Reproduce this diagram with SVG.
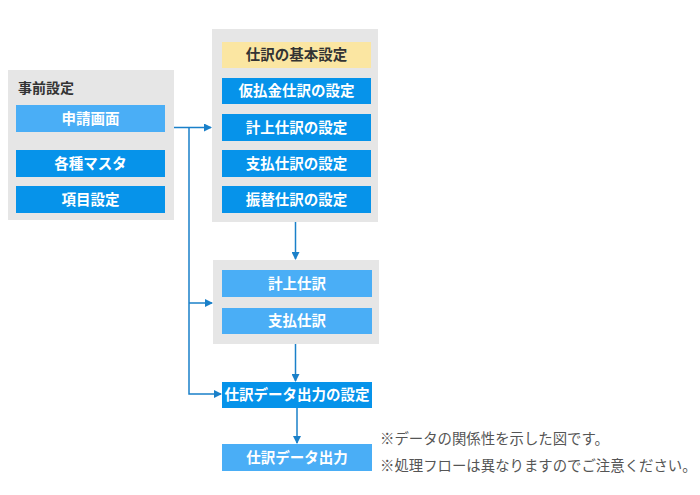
<svg xmlns="http://www.w3.org/2000/svg" width="700" height="495" viewBox="0 0 700 495">
<style>
.grp{fill:#e6e6e6}
.dk{fill:#0693ea}
.lt{fill:#4aaef6}
.yl{fill:#fbe6a2}
.bt{font-family:"Noto Sans CJK JP","Noto Sans",sans-serif;font-size:14.5px;font-weight:bold;fill:#fff;text-anchor:middle}
.ht{font-family:"Noto Sans CJK JP","Noto Sans",sans-serif;font-size:14px;font-weight:bold;fill:#333}
.nt{font-family:"Noto Sans CJK JP","Noto Sans",sans-serif;font-size:14.4px;fill:#555}
.ln{stroke:#1a80c9;stroke-width:1.5;fill:none}
</style>
<defs>
<marker id="ah" markerWidth="8" markerHeight="8" refX="7" refY="4" orient="auto" markerUnits="userSpaceOnUse">
<path d="M0,0 L8,4 L0,8 Z" fill="#1a80c9"/>
</marker>
</defs>
<rect width="700" height="495" fill="#fff"/>
<g id="pre">
<rect class="grp" x="8" y="70" width="166" height="150"/>
<text class="ht" x="18" y="93">事前設定</text>
</g>
<g id="n-shinsei"><rect class="lt" x="16" y="105" width="149" height="27"/><text class="bt" x="90.5" y="123.5">申請画面</text></g>
<g id="n-master"><rect class="dk" x="16" y="150" width="149" height="27"/><text class="bt" x="90.5" y="168.5">各種マスタ</text></g>
<g id="n-koumoku"><rect class="dk" x="16" y="186" width="149" height="27"/><text class="bt" x="90.5" y="204.5">項目設定</text></g>

<g id="settings">
<rect class="grp" x="212" y="29" width="166" height="193"/>
</g>
<g id="n-kihon"><rect class="yl" x="222" y="42" width="149" height="26"/><text class="bt" x="296.5" y="60" style="fill:#333">仕訳の基本設定</text></g>
<g id="n-karibarai"><rect class="dk" x="222" y="78" width="149" height="26"/><text class="bt" x="296.5" y="96">仮払金仕訳の設定</text></g>
<g id="n-keijo-s"><rect class="dk" x="222" y="114" width="149" height="27"/><text class="bt" x="296.5" y="132.5">計上仕訳の設定</text></g>
<g id="n-shiharai-s"><rect class="dk" x="222" y="150" width="149" height="27"/><text class="bt" x="296.5" y="168.5">支払仕訳の設定</text></g>
<g id="n-furikae-s"><rect class="dk" x="222" y="186" width="149" height="27"/><text class="bt" x="296.5" y="204.5">振替仕訳の設定</text></g>

<g id="journals">
<rect class="grp" x="213" y="260" width="166" height="84"/>
</g>
<g id="n-keijo"><rect class="lt" x="222" y="270" width="150" height="27"/><text class="bt" x="297" y="288.5">計上仕訳</text></g>
<g id="n-shiharai"><rect class="lt" x="222" y="308" width="150" height="26"/><text class="bt" x="297" y="326">支払仕訳</text></g>

<g id="n-output-s"><rect class="dk" x="222" y="382" width="150" height="26"/><text class="bt" x="297" y="400">仕訳データ出力の設定</text></g>
<g id="n-output"><rect class="lt" x="222" y="444" width="150" height="27"/><text class="bt" x="297" y="462.5">仕訳データ出力</text></g>

<g id="connectors">
<path class="ln" d="M174,127.5 H211" marker-end="url(#ah)"/>
<path class="ln" d="M189,127.5 V394 H221" marker-end="url(#ah)"/>
<path class="ln" d="M189,303 H212" marker-end="url(#ah)"/>
<path class="ln" d="M295.5,222 V259" marker-end="url(#ah)"/>
<path class="ln" d="M295.5,344 V381" marker-end="url(#ah)"/>
<path class="ln" d="M297,408 V443" marker-end="url(#ah)"/>
</g>

<g id="notes">
<text class="nt" x="380" y="444">※データの関係性を示した図です。</text>
<text class="nt" x="380" y="471">※処理フローは異なりますのでご注意ください。</text>
</g>
</svg>
